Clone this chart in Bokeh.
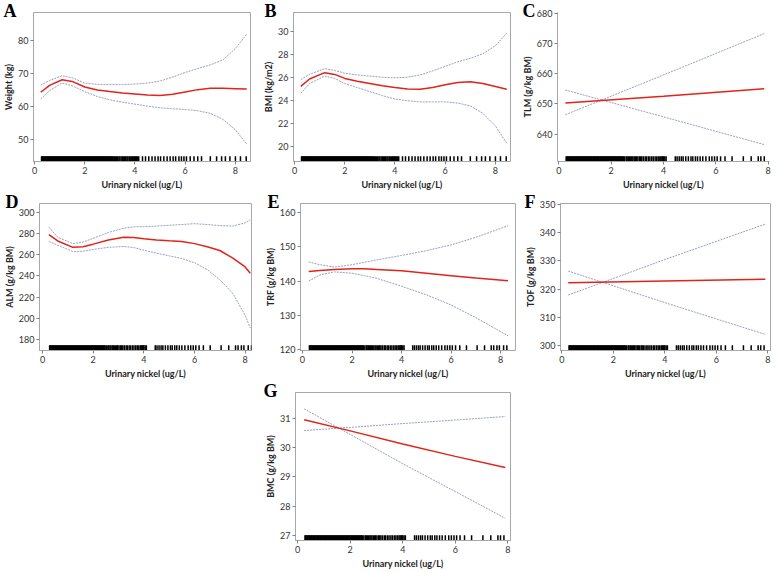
from bokeh.plotting import figure
from bokeh.models import Range1d, SingleIntervalTicker, Spacer, ColumnDataSource
from bokeh.layouts import row, column
from bokeh.embed import file_html
from bokeh.resources import INLINE

XLABEL = "Urinary nickel (ug/L)"

# ---- rug (observed urinary nickel values) ----
rug_dense = [0.28, 0.31, 0.34, 0.37, 0.40, 0.43, 0.46, 0.49, 0.52, 0.55, 0.58, 0.61, 0.64, 0.67,
             0.70, 0.73, 0.76, 0.79, 0.82, 0.85, 0.88, 0.91, 0.94, 0.97, 1.00, 1.03, 1.06, 1.09,
             1.12, 1.15, 1.18, 1.21, 1.24, 1.27, 1.30, 1.33, 1.36, 1.39, 1.42, 1.45, 1.48, 1.51,
             1.54, 1.57, 1.60, 1.63, 1.66, 1.69, 1.72, 1.75, 1.78, 1.81, 1.84, 1.87, 1.90, 1.93,
             1.96, 1.99, 2.02, 2.05, 2.08, 2.11, 2.14, 2.17, 2.20, 2.23, 2.26, 2.29, 2.32, 2.35,
             2.38, 2.41, 2.44, 2.47]
rug_ab_extra = [2.50, 2.53, 2.56, 2.59, 2.62, 2.65, 2.68, 2.71, 2.74, 2.77, 2.80, 2.83, 2.86, 2.89,
                2.92, 2.95, 2.98, 3.01, 3.04, 3.07, 3.10, 3.14, 3.18, 3.22, 3.27, 3.31, 3.36, 3.40,
                3.45, 3.50, 3.54, 3.59, 3.63, 3.68, 3.72, 3.77, 3.81, 3.86, 3.90, 3.94, 3.98, 4.02,
                4.06, 4.10, 4.15, 4.30, 4.42, 4.55, 4.68, 4.80, 4.92, 5.02, 5.15, 5.28, 5.40, 5.52,
                5.62, 5.75, 5.85, 5.95, 6.05, 6.20, 6.35, 6.50, 6.65, 7.00, 7.25, 7.45, 7.60, 7.78,
                8.00, 8.20, 8.43]
rug_cg_extra = [2.52, 2.58, 2.61, 2.66, 2.70, 2.75, 2.79, 2.83, 2.88, 2.93, 2.97, 3.02, 3.08, 3.12,
                3.17, 3.23, 3.30, 3.35, 3.42, 3.48, 3.55, 3.61, 3.68, 3.74, 3.80, 3.86, 3.90, 3.94,
                3.97, 4.00, 4.05, 4.10, 4.45, 4.52, 4.60, 4.68, 4.75, 4.85, 4.95, 5.05, 5.12, 5.22,
                5.30, 5.40, 5.50, 5.62, 5.75, 5.85, 5.95, 6.05, 6.18, 6.35, 6.62, 7.05, 7.35, 7.62,
                7.72, 7.85]
rug_de_tail = [7.95, 8.12, 8.25]

rug_ab = rug_dense + rug_ab_extra
rug_cg = rug_dense + rug_cg_extra
rug_de = rug_cg + rug_de_tail

# ---- A: Weight ----
xA = [0.25, 0.6, 1.1, 1.5, 2.0, 2.5, 3.0, 3.5, 4.0, 4.5, 5.0, 5.5, 6.0, 6.5, 7.0, 7.5, 8.0, 8.45]
fitA = [64.2, 66.3, 68.0, 67.5, 65.8, 64.9, 64.4, 64.0, 63.7, 63.4, 63.2, 63.6, 64.3, 65.0, 65.4, 65.4, 65.3, 65.2]
upA = [66.4, 67.8, 69.2, 68.6, 67.0, 66.6, 66.5, 66.5, 66.7, 67.0, 67.6, 68.8, 70.2, 71.4, 72.5, 74.0, 77.5, 81.8]
loA = [62.2, 64.7, 67.0, 66.2, 64.4, 62.9, 61.9, 61.2, 60.6, 60.0, 59.5, 59.2, 59.0, 58.6, 57.8, 56.0, 52.8, 48.5]

# ---- B: BMI ----
xB = [0.25, 0.6, 1.2, 1.6, 2.0, 2.5, 3.0, 3.5, 4.0, 4.5, 5.0, 5.5, 6.0, 6.5, 7.0, 7.5, 8.0, 8.45]
fitB = [25.25, 25.9, 26.45, 26.3, 25.95, 25.7, 25.5, 25.3, 25.15, 25.02, 25.0, 25.15, 25.4, 25.6, 25.65, 25.5, 25.25, 25.0]
upB = [25.85, 26.3, 26.8, 26.65, 26.4, 26.25, 26.15, 26.05, 26.0, 26.05, 26.25, 26.6, 27.0, 27.4, 27.7, 28.1, 28.8, 29.9]
loB = [24.65, 25.5, 26.15, 25.95, 25.5, 25.15, 24.8, 24.45, 24.15, 24.0, 23.9, 23.9, 23.9, 23.8, 23.55, 22.9, 21.8, 20.3]

# ---- C: TLM ----
xC = [0.25, 4.0, 7.85]
fitC = [650.3, 652.5, 655.0]
upC = [646.4, 659.6, 673.3]
loC = [654.6, 645.7, 636.5]

# ---- D: ALM ----
xD = [0.25, 0.6, 1.2, 1.6, 2.0, 2.6, 3.2, 3.6, 4.0, 4.5, 5.0, 5.5, 6.0, 6.5, 7.0, 7.5, 8.0, 8.2]
fitD = [279, 273, 267, 267.5, 270, 274, 276.5, 276.3, 275.2, 274, 273.2, 272.6, 270.5, 267.5, 264, 257, 248.5, 242.5]
upD = [286, 276.5, 270.5, 272, 275.5, 281, 285, 286.3, 286.5, 287, 287.8, 288.5, 289.3, 288.5, 287.5, 287.0, 290, 293]
loD = [272.5, 269, 263, 263.3, 265, 267, 267.8, 266.8, 264.3, 261.5, 259, 256.5, 252.5, 246, 236.5, 224, 203, 191]

# ---- E: TRF ----
xE = [0.25, 0.7, 1.3, 2.0, 2.5, 3.0, 4.0, 5.0, 6.0, 7.0, 8.3]
fitE = [142.8, 143.1, 143.4, 143.6, 143.6, 143.4, 143.0, 142.3, 141.6, 140.9, 140.1]
upE = [145.6, 144.8, 144.1, 144.8, 145.5, 146.2, 147.5, 148.9, 150.6, 152.8, 156.2]
loE = [140.0, 141.8, 142.7, 142.3, 141.6, 140.8, 138.5, 136.0, 133.0, 129.3, 124.0]

# ---- F: TOF ----
xF = [0.25, 4.0, 7.9]
fitF = [322.3, 322.9, 323.5]
upF = [317.9, 330.5, 343.1]
loF = [326.4, 315.2, 303.9]

# ---- G: BMC ----
xG = [0.25, 2.0, 4.0, 6.0, 7.9]
fitG = [30.95, 30.57, 30.12, 29.7, 29.32]
ci1G = [31.32, 30.45, 29.45, 28.5, 27.59]
ci2G = [30.58, 30.69, 30.82, 30.94, 31.06]

FONT = "Lato"
RED = "#e2231a"
CI = "#98a1c0"


def panel(letter, ylabel, xr, yr, yint, xs, fit, up, lo, rug, w, h, bl, br, bt, bb,
          loff, outline=True):
    p = figure(width=w, height=h, x_range=Range1d(*xr), y_range=Range1d(*yr),
               output_backend="svg", toolbar_location=None, title=letter,
               min_border_left=bl, min_border_right=br, min_border_top=bt, min_border_bottom=bb)
    p.xgrid.visible = False
    p.ygrid.visible = False
    p.outline_line_color = "#a8a8a8" if outline else None
    p.background_fill_color = "white"
    p.border_fill_color = "white"

    # panel letter (title pulled into the top-left corner)
    p.title.align = "left"
    p.title.offset = loff
    p.title.vertical_align = "top"
    p.title.standoff = -20
    p.title.text_font = "Liberation Serif"
    p.title.text_font_style = "bold"
    p.title.text_font_size = "18px"
    p.title.text_color = "black"

    p.xaxis.ticker = SingleIntervalTicker(interval=2)
    p.yaxis.ticker = SingleIntervalTicker(interval=yint)
    for ax in (p.xaxis[0], p.yaxis[0]):
        ax.axis_line_color = "#a8a8a8"
        ax.major_tick_line_color = "#808080"
        ax.major_tick_out = 3
        ax.major_tick_in = 0
        ax.minor_tick_line_color = None
        ax.major_label_text_font = FONT
        ax.major_label_text_font_size = "9px"
        ax.major_label_text_color = "#333333"
        ax.major_label_standoff = 1
        ax.axis_label_text_font = FONT
        ax.axis_label_text_font_size = "9px"
        ax.axis_label_text_font_style = "bold"
        ax.axis_label_text_color = "#222222"
    p.xaxis.axis_label = XLABEL
    p.xaxis.axis_label_standoff = 2
    p.yaxis.axis_label = ylabel
    p.yaxis.axis_label_standoff = 1

    # rug
    r_lo = yr[0]
    r_hi = yr[0] + 0.035 * (yr[1] - yr[0])
    src = ColumnDataSource(dict(x=rug, y0=[r_lo] * len(rug), y1=[r_hi] * len(rug)))
    p.segment(x0="x", y0="y0", x1="x", y1="y1", source=src, line_color="black", line_width=1.5)

    # confidence bands and fit
    p.line(xs, up, line_color=CI, line_width=1, line_dash="2 1")
    p.line(xs, lo, line_color=CI, line_width=1, line_dash="2 1")
    p.line(xs, fit, line_color=RED, line_width=1.5)
    return p


# row 1 (height 192, frames y 12..163)
pA = panel("A", "Weight (kg)", (-0.04, 8.6), (43.2, 88.4), 10, xA, fitA, upA, loA, rug_ab,
           260, 192, 32, 10, 12, 29, -30)
pB = panel("B", "BMI (kg/m2)", (-0.04, 8.6), (18.7, 31.7), 2, xB, fitB, upB, loB, rug_ab,
           257, 192, 32, 7, 12, 29, -29)
pC = panel("C", "TLM (g/kg BM)", (-0.05, 8.05), (630.9, 680.3), 10, xC, fitC, upC, loC, rug_cg,
           259, 192, 40, 7, 12, 29, -35, outline=False)

# row 2 (height 189, frames y 203..350)
pD = panel("D", "ALM (g/kg BM)", (-0.12, 8.25), (169.8, 308.3), 20, xD, fitD, upD, loD, rug_de,
           260, 189, 36, 9, 11, 31, -34)
pE = panel("E", "TRF (g/kg BM)", (-0.08, 8.6), (119.7, 162.7), 10, xE, fitE, upE, loE, rug_de,
           257, 189, 40, 2, 11, 31, -33)
pF = panel("F", "TOF (g/kg BM)", (-0.05, 8.1), (298.2, 350.4), 10, xF, fitF, upF, loF, rug_cg,
           259, 189, 43, 6, 11, 31, -36)

# row 3 (height 190, frame y 392..541)
pG = panel("G", "BMC (g/kg BM)", (-0.08, 8.1), (26.83, 31.88), 1, xG, fitG, ci1G, ci2G, rug_cg,
           257, 190, 35, 7, 11, 30, -32)

layout = column(row(pA, pB, pC), row(pD, pE, pF), row(Spacer(width=260, height=190), pG))

open("out.html", "w").write(file_html(layout, INLINE))
